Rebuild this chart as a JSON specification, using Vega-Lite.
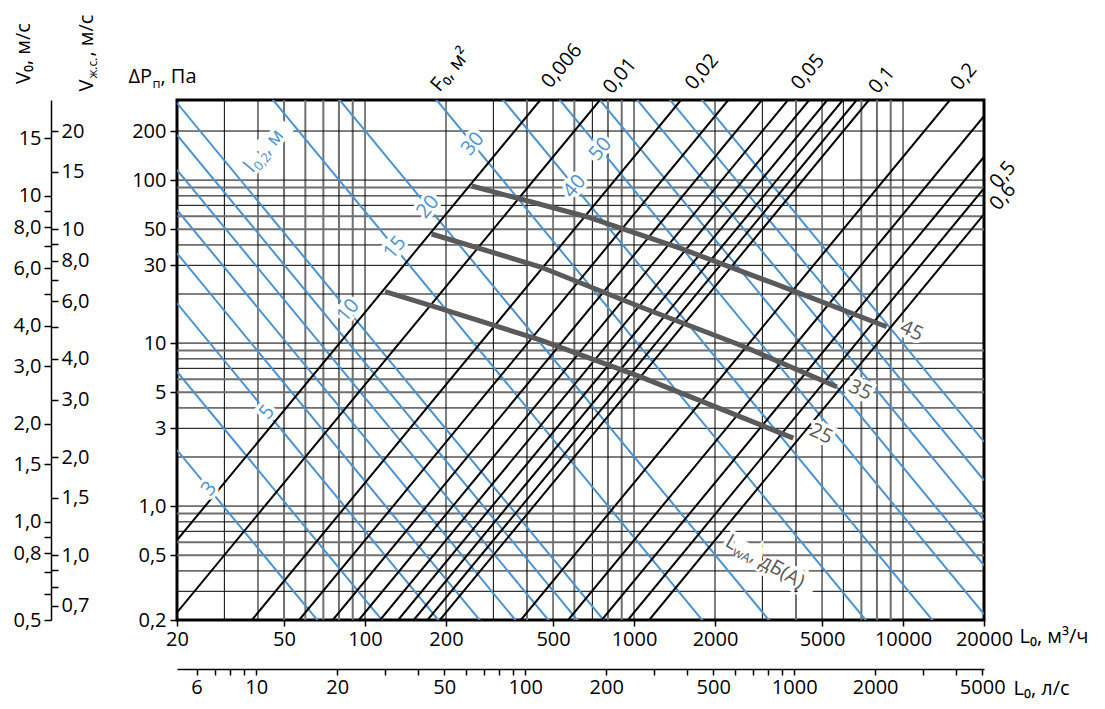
{
  "$schema": "https://vega.github.io/schema/vega-lite/v6.json",
  "width": 807,
  "height": 520,
  "autosize": {"type": "none"},
  "padding": {"left": 177, "top": 100, "right": 121, "bottom": 89},
  "background": "white",
  "config": {
    "font": "Open Sans",
    "view": {"stroke": "black", "strokeWidth": 3},
    "axis": {
      "labelFont": "Open Sans", "titleFont": "Open Sans",
      "labelColor": "black", "titleColor": "black",
      "tickColor": "black", "domainColor": "black",
      "labelFontSize": 20, "titleFontSize": 20, "titleFontWeight": "normal",
      "grid": false, "labelOverlap": false, "labelFlush": false, "labelBound": false
    }
  },
  "resolve": {"axis": {"x": "independent", "y": "independent"}},
  "datasets": {
    "gridXgray": [{"L":50},{"L":60},{"L":70},{"L":80},{"L":90},{"L":400},{"L":600},{"L":800},{"L":900},{"L":4000},{"L":7000},{"L":8000},{"L":9000}],
    "gridXblack": [{"L":30},{"L":40},{"L":100},{"L":200},{"L":300},{"L":500},{"L":700},{"L":1000},{"L":2000},{"L":3000},{"L":5000},{"L":6000},{"L":10000}],
    "gridYgray": [{"P":0.5},{"P":0.6},{"P":0.9},{"P":5},{"P":6},{"P":9},{"P":50},{"P":60},{"P":90}],
    "gridYblack": [{"P":0.3},{"P":0.4},{"P":0.7},{"P":0.8},{"P":1},{"P":2},{"P":3},{"P":4},{"P":7},{"P":8},{"P":10},{"P":20},{"P":30},{"P":40},{"P":70},{"P":80},{"P":100},{"P":200}],
    "blueLines": [
      {"l":3,"L":20,"P":2.2075},{"l":3,"L":20000,"P":0.0000022075},
      {"l":4,"L":20,"P":6.675},{"l":4,"L":20000,"P":0.000006675},
      {"l":5,"L":20,"P":17.55},{"l":5,"L":20000,"P":0.00001755},
      {"l":6,"L":20,"P":35.55},{"l":6,"L":20000,"P":0.00003555},
      {"l":7,"L":20,"P":65.575},{"l":7,"L":20000,"P":0.000065575},
      {"l":8,"L":20,"P":115.375},{"l":8,"L":20000,"P":0.000115375},
      {"l":9,"L":20,"P":189.25},{"l":9,"L":20000,"P":0.00018925},
      {"l":10,"L":20,"P":297},{"l":10,"L":20000,"P":0.000297},
      {"l":15,"L":20,"P":1605},{"l":15,"L":20000,"P":0.001605},
      {"l":20,"L":20,"P":5025},{"l":20,"L":20000,"P":0.005025},
      {"l":30,"L":20,"P":26400},{"l":30,"L":20000,"P":0.0264},
      {"l":40,"L":20,"P":82500},{"l":40,"L":20000,"P":0.0825},
      {"l":50,"L":20,"P":217500},{"l":50,"L":20000,"P":0.2175},
      {"l":60,"L":20,"P":432500},{"l":60,"L":20000,"P":0.4325},
      {"l":70,"L":20,"P":820000},{"l":70,"L":20000,"P":0.82},
      {"l":80,"L":20,"P":1437500},{"l":80,"L":20000,"P":1.4375},
      {"l":90,"L":20,"P":2482500},{"l":90,"L":20000,"P":2.4825}
    ],
    "fLines": [
      {"F":0.006,"L":11.38,"P":0.2},{"F":0.006,"L":448.2,"P":310},
      {"F":0.01,"L":18.97,"P":0.2},{"F":0.01,"L":747,"P":310},
      {"F":0.02,"L":37.95,"P":0.2},{"F":0.02,"L":1494,"P":310},
      {"F":0.03,"L":56.92,"P":0.2},{"F":0.03,"L":2241,"P":310},
      {"F":0.04,"L":75.9,"P":0.2},{"F":0.04,"L":2988,"P":310},
      {"F":0.05,"L":94.87,"P":0.2},{"F":0.05,"L":3735,"P":310},
      {"F":0.06,"L":113.8,"P":0.2},{"F":0.06,"L":4482,"P":310},
      {"F":0.07,"L":132.8,"P":0.2},{"F":0.07,"L":5229,"P":310},
      {"F":0.08,"L":151.8,"P":0.2},{"F":0.08,"L":5976,"P":310},
      {"F":0.09,"L":170.8,"P":0.2},{"F":0.09,"L":6723,"P":310},
      {"F":0.1,"L":189.7,"P":0.2},{"F":0.1,"L":7470,"P":310},
      {"F":0.2,"L":379.5,"P":0.2},{"F":0.2,"L":14940,"P":310},
      {"F":0.3,"L":569.2,"P":0.2},{"F":0.3,"L":22410,"P":310},
      {"F":0.4,"L":758.9,"P":0.2},{"F":0.4,"L":29880,"P":310},
      {"F":0.5,"L":948.7,"P":0.2},{"F":0.5,"L":37350,"P":310},
      {"F":0.6,"L":1138.4,"P":0.2},{"F":0.6,"L":44820,"P":310}
    ],
    "soundLines": [
      {"dB":45,"L":249.2,"P":92.0},{"dB":45,"L":667,"P":59.6},{"dB":45,"L":1482,"P":38.2},{"dB":45,"L":3294,"P":23.3},{"dB":45,"L":8696,"P":12.6},
      {"dB":35,"L":176.9,"P":46.7},{"dB":35,"L":447.3,"P":29.4},{"dB":35,"L":1052.6,"P":16.7},{"dB":35,"L":2478,"P":9.73},{"dB":35,"L":5670,"P":5.40},
      {"dB":25,"L":118.7,"P":20.7},{"dB":25,"L":190,"P":16.35},{"dB":25,"L":447.3,"P":10.45},{"dB":25,"L":1052.6,"P":6.22},{"dB":25,"L":2478,"P":3.54},{"dB":25,"L":3910,"P":2.61}
    ],
    "blueLabels": [
      {"t":"3","L":26.3,"P":1.277},{"t":"5","L":43.2,"P":3.76},{"t":"10","L":86.6,"P":15.8},
      {"t":"15","L":129.2,"P":38.5},{"t":"20","L":171.3,"P":68.5},{"t":"30","L":251.6,"P":166.8},
      {"t":"40","L":601,"P":91.4},{"t":"50","L":750,"P":154.7}
    ],
    "l02Label": [{"a":"l","b":"0,2","c":", м","full":"l0,2, м","L":36.8,"P":116}],
    "fLabels": [
      {"t":"F₀, м²","L":208.5,"P":473.6},
      {"t":"0,006","L":539.8,"P":501},{"t":"0,01","L":887,"P":435},{"t":"0,02","L":1789,"P":461},
      {"t":"0,05","L":4434,"P":461},{"t":"0,1","L":8352,"P":411},{"t":"0,2","L":16854,"P":429},
      {"t":"0,5","L":23532,"P":107.5},{"t":"0,6","L":23532,"P":78.8}
    ],
    "soundLabels": [
      {"t":"45","L":10760,"P":11.86},{"t":"35","L":6930,"P":5.15},{"t":"25","L":4960,"P":2.77}
    ],
    "lwaLabel": [{"a":"L","b":"wA","c":", дБ(А)","full":"LwA, дБ(А)","L":2218,"P":0.619}]
  },
  "layer": [
    {
      "data": {"name": "gridXgray"},
      "mark": {"type": "rule", "color": "#6f6f6f", "strokeWidth": 2},
      "encoding": {"x": {"field": "L", "type": "quantitative", "scale": {"type": "log", "domain": [20, 20000], "nice": false}, "axis": null}}
    },
    {
      "data": {"name": "gridXblack"},
      "mark": {"type": "rule", "color": "black", "strokeWidth": 1},
      "encoding": {"x": {"field": "L", "type": "quantitative", "scale": {"type": "log", "domain": [20, 20000], "nice": false}, "axis": null}}
    },
    {
      "data": {"name": "gridYgray"},
      "mark": {"type": "rule", "color": "#6f6f6f", "strokeWidth": 2},
      "encoding": {"y": {"field": "P", "type": "quantitative", "scale": {"type": "log", "domain": [0.2, 310], "nice": false},
        "axis": {"orient": "left", "values": [], "ticks": false, "labels": false, "domain": false,
          "title": "п", "titleFontSize": 13, "titleX": -25, "titleY": -13, "titleAlign": "left", "titleBaseline": "alphabetic", "titleAngle": 0}}}
    },
    {
      "data": {"name": "gridYblack"},
      "mark": {"type": "rule", "color": "black", "strokeWidth": 1},
      "encoding": {"y": {"field": "P", "type": "quantitative", "scale": {"type": "log", "domain": [0.2, 310], "nice": false},
        "axis": {"orient": "left", "values": [], "ticks": false, "labels": false, "domain": false,
          "title": ", Па", "titleX": -17, "titleY": -18, "titleAlign": "left", "titleBaseline": "alphabetic", "titleAngle": 0}}}
    },
    {
      "data": {"name": "blueLines"},
      "mark": {"type": "line", "color": "#4a93d0", "strokeWidth": 2, "clip": true},
      "encoding": {
        "x": {"field": "L", "type": "quantitative", "scale": {"type": "log", "domain": [20, 20000], "nice": false},
          "axis": {"orient": "bottom", "values": [20, 50, 100, 200, 500, 1000, 2000, 5000, 10000, 20000], "format": "d",
            "domain": false, "tickSize": 6, "tickWidth": 1.5, "labelPadding": 3,
            "title": "L₀, м³/ч", "titleX": 842, "titleY": 16, "titleAlign": "left", "titleBaseline": "middle", "titleAngle": 0}},
        "y": {"field": "P", "type": "quantitative", "scale": {"type": "log", "domain": [0.2, 310], "nice": false},
          "axis": {"orient": "left", "values": [0.2, 0.5, 1, 3, 5, 10, 30, 50, 100, 200],
            "labelExpr": "datum.value < 1.5 ? replace(format(datum.value, '.1f'), '.', ',') : format(datum.value, 'd')",
            "domain": false, "tickSize": 7, "tickWidth": 1.5, "labelPadding": 4,
            "title": "ΔP", "titleX": -49, "titleY": -18, "titleAlign": "left", "titleBaseline": "alphabetic", "titleAngle": 0}},
        "detail": {"field": "l", "type": "nominal"}
      }
    },
    {
      "data": {"name": "fLines"},
      "mark": {"type": "line", "color": "black", "strokeWidth": 2, "clip": true},
      "encoding": {
        "x": {"field": "L", "type": "quantitative", "scale": {"type": "log", "domain": [20, 20000], "nice": false},
          "axis": {"orient": "bottom", "offset": 49,
            "values": [23.64, 27.58, 31.52, 35.46, 39.4, 78.8, 118.2, 157.6, 197, 236.4, 275.8, 315.2, 354.6, 394, 788, 1182, 1576, 1970, 2364, 2758, 3152, 3546, 3940, 7880, 11820, 15760, 19700],
            "labelExpr": "indexof([6,10,20,50,100,200,500,1000,2000,5000], round(datum.value / 3.94)) < 0 ? '' : format(round(datum.value / 3.94), 'd')",
            "domain": true, "domainWidth": 1.5, "tickSize": 6, "tickWidth": 1.5, "labelPadding": 2,
            "title": "L₀, л/с", "titleX": 836, "titleY": 19, "titleAlign": "left", "titleBaseline": "middle", "titleAngle": 0}},
        "y": {"field": "P", "type": "quantitative", "scale": {"type": "log", "domain": [0.2, 310], "nice": false},
          "axis": {"orient": "left", "offset": 126,
            "values": [0.2, 0.288, 0.392, 0.512, 0.648, 0.8, 1.8, 3.2, 7.2, 12.8, 20, 28.8, 39.2, 51.2, 64.8, 80, 180],
            "labelExpr": "indexof([0.2,0.512,0.8,1.8,3.2,7.2,12.8,28.8,51.2,80,180], datum.value) < 0 ? '' : (datum.value >= 80 ? format(sqrt(datum.value / 0.8), '.0f') : replace(format(sqrt(datum.value / 0.8), '.1f'), '.', ','))",
            "domain": true, "domainWidth": 1.5, "tickSize": 7, "tickWidth": 1.5, "labelPadding": 3,
            "title": "V₀, м/с", "titleX": -28, "titleY": -47, "titleAlign": "center", "titleBaseline": "middle", "titleAngle": 270}},
        "detail": {"field": "F", "type": "nominal"}
      }
    },
    {
      "data": {"name": "soundLines"},
      "mark": {"type": "line", "color": "#5a5a5a", "strokeWidth": 5, "clip": true},
      "encoding": {
        "x": {"field": "L", "type": "quantitative", "scale": {"type": "log", "domain": [20, 20000], "nice": false}, "axis": null},
        "y": {"field": "P", "type": "quantitative", "scale": {"type": "log", "domain": [0.2, 310], "nice": false},
          "axis": {"orient": "right", "offset": -933,
            "values": [0.245, 0.32, 0.405, 0.5, 1.125, 2, 4.5, 8, 12.5, 18, 24.5, 32, 40.5, 50, 112.5, 200],
            "labelExpr": "indexof([0.245,0.5,1.125,2,4.5,8,18,32,50,112.5,200], datum.value) < 0 ? '' : (datum.value >= 50 ? format(sqrt(datum.value * 2), '.0f') : replace(format(sqrt(datum.value * 2), '.1f'), '.', ','))",
            "domain": false, "tickSize": 7, "tickWidth": 1.5, "labelPadding": 3,
            "title": "V", "titleX": 35, "titleY": -9, "titleAlign": "left", "titleBaseline": "middle", "titleAngle": 270}},
        "detail": {"field": "dB", "type": "nominal"}
      }
    },
    {
      "data": {"name": "blueLabels"},
      "mark": {"type": "text", "angle": 310, "fontSize": 20, "font": "Open Sans", "color": "white", "stroke": "white", "strokeWidth": 7, "align": "center", "baseline": "middle"},
      "encoding": {
        "x": {"field": "L", "type": "quantitative", "scale": {"type": "log", "domain": [20, 20000], "nice": false}, "axis": null},
        "y": {"field": "P", "type": "quantitative", "scale": {"type": "log", "domain": [0.2, 310], "nice": false},
          "axis": {"orient": "left", "offset": 126, "values": [], "ticks": false, "labels": false, "domain": false,
            "title": "ж.с.", "titleFontSize": 12, "titleX": 41, "titleY": -22, "titleAlign": "left", "titleBaseline": "middle", "titleAngle": 270}},
        "text": {"field": "t"}
      }
    },
    {
      "data": {"name": "blueLabels"},
      "mark": {"type": "text", "angle": 310, "fontSize": 20, "font": "Open Sans", "color": "#4a93d0", "align": "center", "baseline": "middle"},
      "encoding": {
        "x": {"field": "L", "type": "quantitative", "scale": {"type": "log", "domain": [20, 20000], "nice": false}, "axis": null},
        "y": {"field": "P", "type": "quantitative", "scale": {"type": "log", "domain": [0.2, 310], "nice": false},
          "axis": {"orient": "left", "offset": 126, "values": [], "ticks": false, "labels": false, "domain": false,
            "title": ", м/с", "titleX": 35, "titleY": -44, "titleAlign": "left", "titleBaseline": "middle", "titleAngle": 270}},
        "text": {"field": "t"}
      }
    },
    {
      "data": {"name": "l02Label"},
      "mark": {"type": "text", "angle": 310, "fontSize": 20, "font": "Open Sans", "color": "white", "stroke": "white", "strokeWidth": 7, "align": "left", "baseline": "middle"},
      "encoding": {
        "x": {"field": "L", "type": "quantitative", "scale": {"type": "log", "domain": [20, 20000], "nice": false}, "axis": null},
        "y": {"field": "P", "type": "quantitative", "scale": {"type": "log", "domain": [0.2, 310], "nice": false}, "axis": null},
        "text": {"field": "full"}
      }
    },
    {
      "data": {"name": "l02Label"},
      "mark": {"type": "text", "angle": 310, "fontSize": 20, "font": "Open Sans", "color": "#4a93d0", "align": "left", "baseline": "middle"},
      "encoding": {
        "x": {"field": "L", "type": "quantitative", "scale": {"type": "log", "domain": [20, 20000], "nice": false}, "axis": null},
        "y": {"field": "P", "type": "quantitative", "scale": {"type": "log", "domain": [0.2, 310], "nice": false}, "axis": null},
        "text": {"field": "a"}
      }
    },
    {
      "data": {"name": "l02Label"},
      "mark": {"type": "text", "angle": 310, "fontSize": 13, "font": "Open Sans", "color": "#4a93d0", "align": "left", "baseline": "middle", "dx": 6, "dy": 6},
      "encoding": {
        "x": {"field": "L", "type": "quantitative", "scale": {"type": "log", "domain": [20, 20000], "nice": false}, "axis": null},
        "y": {"field": "P", "type": "quantitative", "scale": {"type": "log", "domain": [0.2, 310], "nice": false}, "axis": null},
        "text": {"field": "b"}
      }
    },
    {
      "data": {"name": "l02Label"},
      "mark": {"type": "text", "angle": 310, "fontSize": 20, "font": "Open Sans", "color": "#4a93d0", "align": "left", "baseline": "middle", "dx": 24},
      "encoding": {
        "x": {"field": "L", "type": "quantitative", "scale": {"type": "log", "domain": [20, 20000], "nice": false}, "axis": null},
        "y": {"field": "P", "type": "quantitative", "scale": {"type": "log", "domain": [0.2, 310], "nice": false}, "axis": null},
        "text": {"field": "c"}
      }
    },
    {
      "data": {"name": "fLabels"},
      "mark": {"type": "text", "angle": 310, "fontSize": 20, "font": "Open Sans", "color": "black", "align": "center", "baseline": "middle"},
      "encoding": {
        "x": {"field": "L", "type": "quantitative", "scale": {"type": "log", "domain": [20, 20000], "nice": false}, "axis": null},
        "y": {"field": "P", "type": "quantitative", "scale": {"type": "log", "domain": [0.2, 310], "nice": false}, "axis": null},
        "text": {"field": "t"}
      }
    },
    {
      "data": {"name": "soundLabels"},
      "mark": {"type": "text", "angle": 25, "fontSize": 20, "font": "Open Sans", "color": "white", "stroke": "white", "strokeWidth": 7, "align": "center", "baseline": "middle"},
      "encoding": {
        "x": {"field": "L", "type": "quantitative", "scale": {"type": "log", "domain": [20, 20000], "nice": false}, "axis": null},
        "y": {"field": "P", "type": "quantitative", "scale": {"type": "log", "domain": [0.2, 310], "nice": false}, "axis": null},
        "text": {"field": "t"}
      }
    },
    {
      "data": {"name": "soundLabels"},
      "mark": {"type": "text", "angle": 25, "fontSize": 20, "font": "Open Sans", "color": "#5a5a5a", "align": "center", "baseline": "middle"},
      "encoding": {
        "x": {"field": "L", "type": "quantitative", "scale": {"type": "log", "domain": [20, 20000], "nice": false}, "axis": null},
        "y": {"field": "P", "type": "quantitative", "scale": {"type": "log", "domain": [0.2, 310], "nice": false}, "axis": null},
        "text": {"field": "t"}
      }
    },
    {
      "data": {"name": "lwaLabel"},
      "mark": {"type": "text", "angle": 30, "fontSize": 20, "font": "Open Sans", "color": "white", "stroke": "white", "strokeWidth": 7, "align": "left", "baseline": "middle"},
      "encoding": {
        "x": {"field": "L", "type": "quantitative", "scale": {"type": "log", "domain": [20, 20000], "nice": false}, "axis": null},
        "y": {"field": "P", "type": "quantitative", "scale": {"type": "log", "domain": [0.2, 310], "nice": false}, "axis": null},
        "text": {"field": "full"}
      }
    },
    {
      "data": {"name": "lwaLabel"},
      "mark": {"type": "text", "angle": 30, "fontSize": 20, "font": "Open Sans", "color": "#5a5a5a", "align": "left", "baseline": "middle"},
      "encoding": {
        "x": {"field": "L", "type": "quantitative", "scale": {"type": "log", "domain": [20, 20000], "nice": false}, "axis": null},
        "y": {"field": "P", "type": "quantitative", "scale": {"type": "log", "domain": [0.2, 310], "nice": false}, "axis": null},
        "text": {"field": "a"}
      }
    },
    {
      "data": {"name": "lwaLabel"},
      "mark": {"type": "text", "angle": 30, "fontSize": 13, "font": "Open Sans", "color": "#5a5a5a", "align": "left", "baseline": "middle", "dx": 11, "dy": 6},
      "encoding": {
        "x": {"field": "L", "type": "quantitative", "scale": {"type": "log", "domain": [20, 20000], "nice": false}, "axis": null},
        "y": {"field": "P", "type": "quantitative", "scale": {"type": "log", "domain": [0.2, 310], "nice": false}, "axis": null},
        "text": {"field": "b"}
      }
    },
    {
      "data": {"name": "lwaLabel"},
      "mark": {"type": "text", "angle": 30, "fontSize": 20, "font": "Open Sans", "color": "#5a5a5a", "align": "left", "baseline": "middle", "dx": 29},
      "encoding": {
        "x": {"field": "L", "type": "quantitative", "scale": {"type": "log", "domain": [20, 20000], "nice": false}, "axis": null},
        "y": {"field": "P", "type": "quantitative", "scale": {"type": "log", "domain": [0.2, 310], "nice": false}, "axis": null},
        "text": {"field": "c"}
      }
    }
  ]
}
